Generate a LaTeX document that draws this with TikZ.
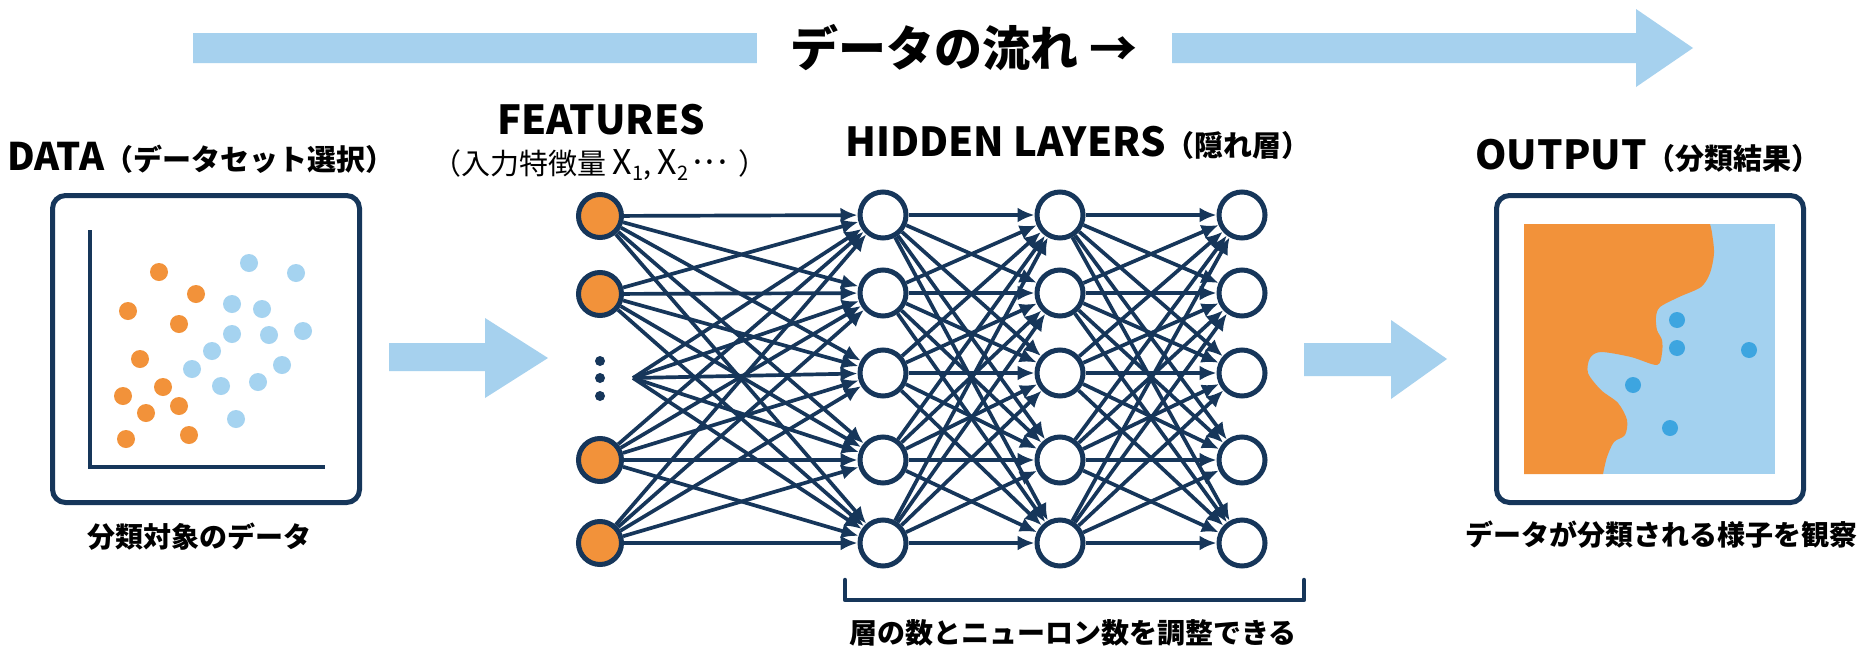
\documentclass[tikz,border=0pt]{standalone}
\usepackage{fontspec}
\setmainfont{Noto Sans CJK JP}
\usetikzlibrary{arrows.meta}
\definecolor{navy}{HTML}{16365A}
\definecolor{dorange}{HTML}{F2923A}
\definecolor{lblue}{HTML}{A5D3F0}
\definecolor{flowblue}{HTML}{A6D1EE}
\definecolor{mapblue}{HTML}{A3D1EF}
\definecolor{dblue}{HTML}{3DA5E0}
\newcommand\latw[2][40]{{\fontsize{#1}{#1}\selectfont #2}}
\tikzset{
  conn/.style={draw=navy, line width=3.7pt, -{Latex[length=17pt,width=15pt]}},
  inp/.style={circle, draw=navy, line width=5pt, fill=dorange, minimum size=43pt, inner sep=0pt},
  hid/.style={circle, draw=navy, line width=5pt, fill=white, minimum size=46pt, inner sep=0pt},
  dotn/.style={circle, fill=navy, minimum size=10pt, inner sep=0pt},
  frame/.style={draw=navy, line width=5pt, rounded corners=13pt, minimum width=307pt, minimum height=307pt, inner sep=0pt},
  flow/.style={fill=flowblue},
  ttl/.style={font=\bfseries\fontsize{29}{36}\selectfont, inner sep=0pt},
  captxt/.style={font=\bfseries\fontsize{28}{34}\selectfont, inner sep=0pt},
}
\begin{document}
\begin{tikzpicture}[x=1pt,y=-1pt]
\useasboundingbox (0,0) rectangle (1859,648);
\fill[white] (0,0) rectangle (1859,648);

% top flow arrow
\fill[flow] (193,33) -- (1636,33) -- (1636,9) -- (1693,48) -- (1636,87) -- (1636,63) -- (193,63) -- cycle;
\node[fill=white, minimum width=415pt, minimum height=40pt, inner sep=0pt,
      font=\bfseries\fontsize{48}{52}\selectfont] (flowtxt) at (964,48) {データの流れ →};

% titles
\node[ttl] (tdata) at (201,158) {\latw[38]{DATA}（データセット選択）};
\node[ttl] (tfeat) at (601,120) {\latw{FEATURES}};
\node[inner sep=0pt, font=\fontsize{29}{36}\selectfont] (tfeat2) at (600,165)
  {（入力特徴量 \latw[34]{X}\raisebox{-6pt}{\fontsize{20}{20}\selectfont 1}, \latw[34]{X}\raisebox{-6pt}{\fontsize{20}{20}\selectfont 2}{\fontsize{34}{34}\selectfont ·\kern-0.2em·\kern-0.2em·} ）};
\node[ttl] (thid) at (1078,143) {\latw{HIDDEN LAYERS}（隠れ層）};
\node[ttl] (tout) at (1648,156) {\latw{OUTPUT}（分類結果）};

% data box
\node[frame] (databox) at (206,349) {};
\draw[navy, line width=4pt] (90,230) -- (90,467) -- (325,467);
\foreach \p in {(159,272),(196,294),(128,311),(179,324),(140,359),(163,387),(123,396),(179,406),(146,413),(126,439),(189,435)}
  \fill[dorange] \p circle (9);
\foreach \p in {(249,263),(296,273),(232,304),(262,309),(232,334),(269,335),(303,331),(212,351),(192,369),(282,365),(221,386),(258,382),(236,419)}
  \fill[lblue] \p circle (9);
\node[captxt] (cdata) at (199,537) {分類対象のデータ};

% side arrows
\fill[flow] (389,343) -- (485,343) -- (485,318) -- (548,358) -- (485,398) -- (485,371) -- (389,371) -- cycle;
\fill[flow] (1304,343) -- (1391,343) -- (1391,320) -- (1447,359) -- (1391,399) -- (1391,376) -- (1304,376) -- cycle;

% network nodes
\foreach \y [count=\r] in {215,293,373,460,543} {
  \node[hid] (a\r) at (883,\y) {};
  \node[hid] (b\r) at (1060,\y) {};
  \node[hid] (c\r) at (1242,\y) {};
}
\node[inp] (i1) at (600,216) {};
\node[inp] (i2) at (600,294) {};
\coordinate (i3) at (633,378);
\node[inp] (i4) at (600,460) {};
\node[inp] (i5) at (600,543) {};
\node[dotn] (d1) at (600,361) {};
\node[dotn] (d2) at (600,378) {};
\node[dotn] (d3) at (600,396) {};

\foreach \s in {i1,i2,i3,i4,i5}
  \foreach \t in {1,...,5}
    \draw[conn] (\s) -- (a\t);
\foreach \s in {1,...,5}
  \foreach \t in {1,...,5} {
    \draw[conn] (a\s) -- (b\t);
    \draw[conn] (b\s) -- (c\t);
  }

% bracket
\coordinate (bl) at (845,580);
\coordinate (br) at (1304,580);
\draw[navy, line width=4.5pt, line cap=round, line join=round] (bl) -- ++(0,20) -- ([yshift=-20pt]br) -- (br);
\node[captxt] (chid) at (1073,633) {層の数とニューロン数を調整できる};

% output box
\node[frame] (outbox) at (1650,349) {};
\fill[mapblue] (1524,224) rectangle (1775,474);
\fill[dorange] (1524,224) -- plot[smooth, tension=0.5] coordinates {(1710,224) (1712,233) (1714,253) (1710,273) (1701,287) (1679,297) (1660,307) (1656,317) (1657,330) (1662,340) (1662,353) (1657,365) (1631,357) (1601,352) (1590,358) (1588,373) (1601,390) (1618,403) (1627,420) (1625,435) (1614,442) (1607,457) (1603,474)} -- (1524,474) -- cycle;
\foreach \p in {(1677,320),(1677,348),(1749,350),(1633,385),(1670,428)}
  \fill[dblue] \p circle (8);
\node[captxt] (cout) at (1661,535) {データが分類される様子を観察};
\end{tikzpicture}
\end{document}
